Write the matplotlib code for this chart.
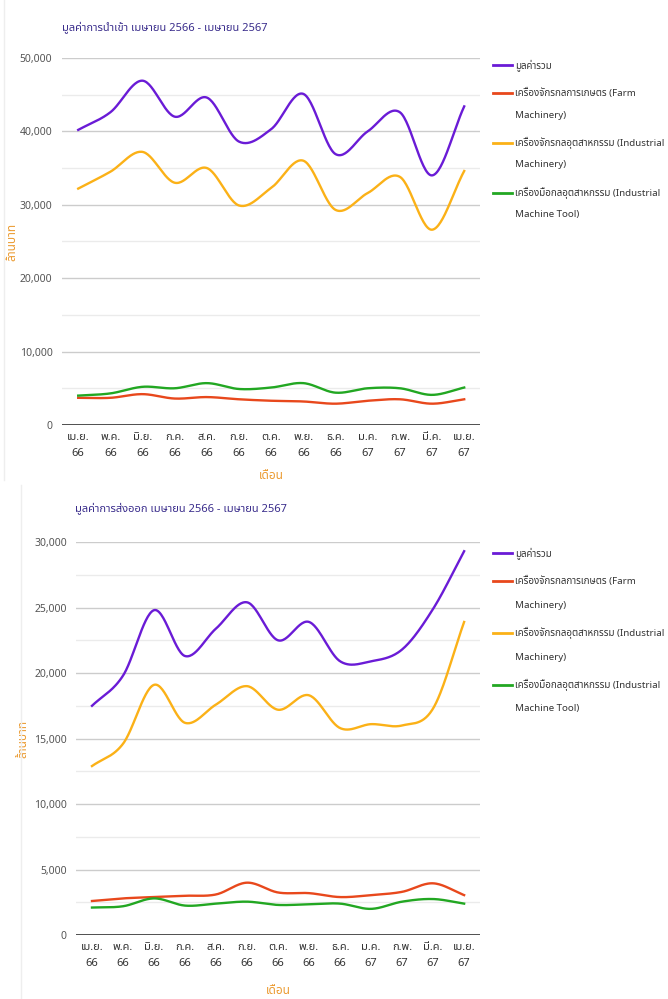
import matplotlib
matplotlib.use('Agg')
import matplotlib.pyplot as plt
import numpy as np
from matplotlib import font_manager
from matplotlib.ft2font import FT2Font
from matplotlib.lines import Line2D
from matplotlib.ticker import FuncFormatter, MultipleLocator

# months (Thai abbreviations, Buddhist year)
months = ['เม.ย.\n66', 'พ.ค.\n66', 'มิ.ย.\n66', 'ก.ค.\n66', 'ส.ค.\n66', 'ก.ย.\n66',
          'ต.ค.\n66', 'พ.ย.\n66', 'ธ.ค.\n66', 'ม.ค.\n67', 'ก.พ.\n67', 'มี.ค.\n67', 'เม.ย.\n67']

names = ['มูลค่ารวม',
         'เครื่องจักรกลการเกษตร (Farm\nMachinery)',
         'เครื่องจักรกลอุตสาหกรรม (Industrial\nMachinery)',
         'เครื่องมือกลอุตสาหกรรม (Industrial\nMachine Tool)']

# import values (million baht)
imp_total = [40200, 42600, 46900, 42000, 44600, 38600, 40300, 45100, 36900, 40000, 42600, 34000, 43400]
imp_farm = [3700, 3700, 4200, 3600, 3800, 3500, 3300, 3200, 2900, 3300, 3500, 2900, 3500]
imp_ind = [32200, 34500, 37200, 33000, 35000, 29900, 32300, 36000, 29300, 31600, 33800, 26600, 34600]
imp_tool = [4000, 4300, 5200, 5000, 5700, 4900, 5100, 5700, 4400, 5000, 5000, 4100, 5100]

# export values (million baht)
exp_total = [17500, 19800, 24800, 21300, 23400, 25400, 22500, 23900, 20900, 20900, 21800, 24900, 29300]
exp_farm = [2600, 2800, 2900, 3000, 3100, 4000, 3250, 3200, 2900, 3050, 3300, 3950, 3050]
exp_ind = [12900, 14600, 19100, 16200, 17600, 19000, 17200, 18300, 15800, 16100, 16000, 17300, 23900]
exp_tool = [2100, 2200, 2800, 2250, 2400, 2550, 2300, 2350, 2400, 2000, 2550, 2750, 2400]

colors = ['#6a1bd6', '#e8481c', '#fbb117', '#22a722']

W, H = 668, 999


def find_thai_font():
    prefer = ['Noto Sans Thai', 'Noto Sans Thai UI', 'Loma', 'Garuda', 'Sarabun', 'Tlwg Typo']
    found = []
    for f in font_manager.fontManager.ttflist:
        try:
            if ord('ก') in FT2Font(f.fname).get_charmap():
                found.append(f.name)
        except Exception:
            pass
    for p in prefer:
        if p in found:
            return p
    return found[0] if found else 'DejaVu Sans'


thai = find_thai_font()
plt.rcParams['font.family'] = [thai, 'DejaVu Sans']


def smooth(y, n=30):
    # cubic hermite (catmull-rom) through the data points, like a "function" curve
    y = np.asarray(y, dtype=float)
    m = np.zeros_like(y)
    m[1:-1] = (y[2:] - y[:-2]) / 2
    m[0] = y[1] - y[0]
    m[-1] = y[-1] - y[-2]
    xs, ys = [], []
    for i in range(len(y) - 1):
        t = np.linspace(0, 1, n, endpoint=False)
        h00 = 2 * t**3 - 3 * t**2 + 1
        h10 = t**3 - 2 * t**2 + t
        h01 = -2 * t**3 + 3 * t**2
        h11 = t**3 - t**2
        xs.append(i + t)
        ys.append(h00 * y[i] + h10 * m[i] + h01 * y[i + 1] + h11 * m[i + 1])
    xs.append([len(y) - 1])
    ys.append([y[-1]])
    return np.concatenate(xs), np.concatenate(ys)


def legend(fig, y0, pitch, gap):
    # google-charts style legend: marker aligned with the first text line
    y = y0
    for i, name in enumerate(names):
        fig.add_artist(Line2D([493 / W, 512 / W], [1 - y / H, 1 - y / H],
                              color=colors[i], lw=2))
        for line in name.split('\n'):
            fig.text(515 / W, 1 - y / H, line, fontsize=7, color='#333333', va='center')
            y += pitch
        y += gap - pitch


def draw(ax, series, ymax, major, minor, ylab_x, xlab_y):
    x = np.arange(len(months))
    for i, s in enumerate(series):
        sx, sy = smooth(s)
        ax.plot(sx, sy, color=colors[i], lw=1.7, label=names[i], zorder=3)
    ax.set_xlim(-0.5, 12.5)
    ax.set_ylim(0, ymax)
    ax.yaxis.set_major_locator(MultipleLocator(major))
    ax.yaxis.set_minor_locator(MultipleLocator(minor))
    ax.yaxis.set_major_formatter(FuncFormatter(lambda v, p: f'{int(v):,}'))
    ax.grid(which='major', axis='y', color='#cccccc', lw=1)
    ax.grid(which='minor', axis='y', color='#ebebeb', lw=1)
    ax.set_axisbelow(True)
    ax.axhline(0, color='#333333', lw=1.2, zorder=2)
    ax.set_xticks(x)
    ax.set_xticklabels(months, fontsize=8, color='#333333', linespacing=1.6)
    ax.tick_params(axis='y', which='both', length=0, labelsize=7.5, labelcolor='#555555', pad=7)
    ax.tick_params(axis='x', length=0, pad=5)
    for sp in ax.spines.values():
        sp.set_visible(False)
    ax.set_xlabel('เดือน', fontsize=8.5, style='italic', color='#eb9a2f')
    ax.xaxis.set_label_coords(0.5, xlab_y)
    ax.set_ylabel('ล้านบาท', fontsize=8.5, style='italic', color='#eb9a2f')
    ax.yaxis.set_label_coords(ylab_x, 0.5)


fig = plt.figure(figsize=(W / 100, H / 100), dpi=100)
ax1 = fig.add_axes([0.093, 0.5746, 0.626, 0.3674])
ax2 = fig.add_axes([0.1145, 0.064, 0.6035, 0.3934])

# faint card borders on the left
fig.add_artist(Line2D([4 / W, 4 / W], [1 - 480 / H, 1.0], color='#eeeeee', lw=1))
fig.add_artist(Line2D([21 / W, 21 / W], [0.0, 1 - 485 / H], color='#eeeeee', lw=1))

draw(ax1, [imp_total, imp_farm, imp_ind, imp_tool], 50000, 10000, 5000, -0.105, -0.12)
draw(ax2, [exp_total, exp_farm, exp_ind, exp_tool], 30000, 5000, 2500, -0.117, -0.125)

legend(fig, 65, 22, 28)
legend(fig, 553, 24, 28)

fig.text(62 / W, 1 - 27 / H, 'มูลค่าการนำเข้า เมษายน 2566 - เมษายน 2567',
         fontsize=8, fontweight='bold', color='#3a2d8c', va='center')
fig.text(75 / W, 1 - 508 / H, 'มูลค่าการส่งออก เมษายน 2566 - เมษายน 2567',
         fontsize=8, fontweight='bold', color='#3a2d8c', va='center')

fig.savefig('out.png', dpi=100)
